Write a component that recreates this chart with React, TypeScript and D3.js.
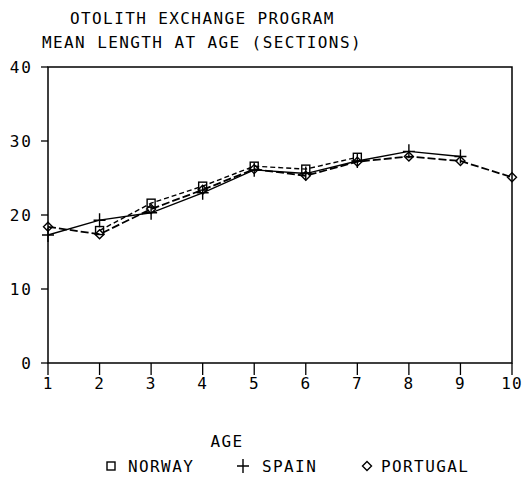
import React from "react";
import * as d3 from "d3";

const titleLines = ["OTOLITH EXCHANGE PROGRAM", "MEAN LENGTH AT AGE (SECTIONS)"];
const xTicks = [1, 2, 3, 4, 5, 6, 7, 8, 9, 10];
const yTicks = [0, 10, 20, 30, 40];
const norwayAges = [2, 3, 4, 5, 6, 7];
const norwayValues = [17.9, 21.6, 23.9, 26.6, 26.2, 27.8];
const spainAges = [1, 2, 3, 4, 5, 6, 7, 8, 9];
const spainValues = [17.3, 19.3, 20.3, 23.0, 26.1, 25.6, 27.3, 28.6, 27.9];
const portugalAges = [1, 2, 3, 4, 5, 6, 7, 8, 9, 10];
const portugalValues = [18.4, 17.4, 20.8, 23.4, 26.2, 25.3, 27.2, 27.9, 27.3, 25.1];
const xLabel = "AGE";
const legendNames = ["NORWAY", "SPAIN", "PORTUGAL"];

const FONT = "'DejaVu Sans Mono', monospace";

export default function App() {
  const x = d3.scaleLinear().domain([1, 10]).range([48, 512]);
  const y = d3.scaleLinear().domain([0, 40]).range([363, 67]);
  const line = d3
    .line<[number, number]>()
    .x((d) => x(d[0]))
    .y((d) => y(d[1]));

  const zip = (a: number[], v: number[]) => a.map((ag, i) => [ag, v[i]] as [number, number]);
  const nor = zip(norwayAges, norwayValues);
  const spa = zip(spainAges, spainValues);
  const por = zip(portugalAges, portugalValues);

  const square = (cx: number, cy: number, k: string) => (
    <rect key={k} x={cx - 4} y={cy - 4} width={8} height={8} fill="none" stroke="#000" strokeWidth={1.4} />
  );
  const plus = (cx: number, cy: number, k: string) => (
    <path key={k} d={`M${cx - 6},${cy}H${cx + 6}M${cx},${cy - 7}V${cy + 7}`} stroke="#000" strokeWidth={1.4} fill="none" />
  );
  const diamond = (cx: number, cy: number, k: string) => (
    <path key={k} d={`M${cx},${cy - 4.5}L${cx + 4.5},${cy}L${cx},${cy + 4.5}L${cx - 4.5},${cy}Z`} stroke="#000" strokeWidth={1.4} fill="none" />
  );

  const textStyle = { fontFamily: FONT, fontSize: 16, letterSpacing: 1.4, fill: "#000" } as const;

  return (
    <svg width={528} height={483} style={{ position: "absolute", left: 0, top: 0, background: "#fff" }}>
      <rect width={528} height={483} fill="#fff" />
      {/* title */}
      <text x={70} y={24} style={textStyle}>{titleLines[0]}</text>
      <text x={42} y={48} style={textStyle}>{titleLines[1]}</text>

      {/* frame */}
      <path
        d={`M${x(1)},${y(40)}H${x(10)}V${y(0)}H${x(1)}Z`}
        fill="none"
        stroke="#000"
        strokeWidth={1.5}
      />
      {yTicks.map((t) => (
        <g key={"y" + t}>
          <line x1={41} x2={x(1)} y1={y(t)} y2={y(t)} stroke="#000" strokeWidth={1.3} />
          <text x={33} y={y(t) + 6} textAnchor="end" style={{ ...textStyle, letterSpacing: 2 }}>{t}</text>
        </g>
      ))}
      {xTicks.map((t) => (
        <g key={"x" + t}>
          <line x1={x(t)} x2={x(t)} y1={y(0)} y2={y(0) + 12} stroke="#000" strokeWidth={1.3} />
          <text x={x(t)} y={389} textAnchor="middle" style={{ ...textStyle, letterSpacing: 1 }}>{t}</text>
        </g>
      ))}

      {/* lines */}
      <path d={line(nor) || ""} fill="none" stroke="#000" strokeWidth={1.4} strokeDasharray="5,3" />
      <path d={line(spa) || ""} fill="none" stroke="#000" strokeWidth={1.4} />
      <path d={line(por) || ""} fill="none" stroke="#000" strokeWidth={1.8} strokeDasharray="8,3" />

      {nor.map((d, i) => square(x(d[0]), y(d[1]), "n" + i))}
      {spa.map((d, i) => plus(x(d[0]), y(d[1]), "s" + i))}
      {por.map((d, i) => diamond(x(d[0]), y(d[1]), "p" + i))}

      {/* x label */}
      <text x={227} y={447} textAnchor="middle" style={textStyle}>{xLabel}</text>

      {/* legend */}
      {square(111, 466, "lg0")}
      <text x={128} y={472} style={textStyle}>{legendNames[0]}</text>
      {plus(243, 466, "lg1")}
      <text x={262} y={472} style={textStyle}>{legendNames[1]}</text>
      {diamond(367, 466, "lg2")}
      <text x={381} y={472} style={textStyle}>{legendNames[2]}</text>
    </svg>
  );
}
